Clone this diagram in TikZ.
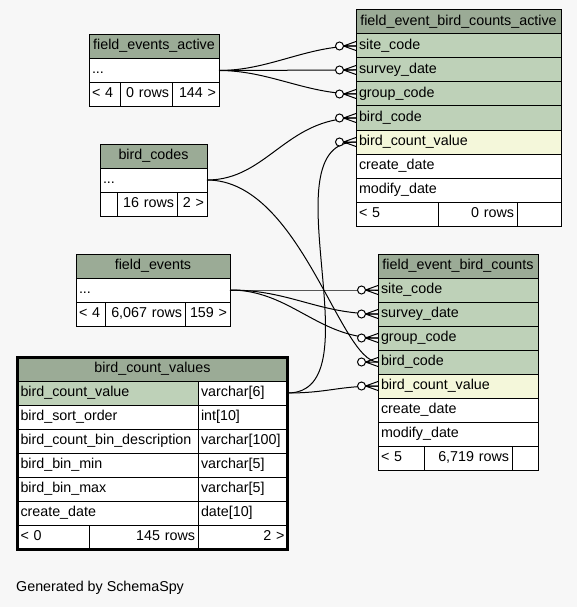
\documentclass[tikz,border=0pt]{standalone}
\usepackage{fontspec}
\setmainfont{Liberation Sans}
\usetikzlibrary{positioning}
\definecolor{schemabg}{HTML}{F7F7F7}
\definecolor{schemahead}{HTML}{9BAB96}
\definecolor{schemakey}{HTML}{BED1B8}
\definecolor{schemaidx}{HTML}{F4F7DA}
\newcommand{\tablefont}{\fontsize{14.3}{17}\selectfont}
\tikzset{
  cell/.style={draw=black, line width=1pt, fill=white, minimum height=24pt,
               inner xsep=3pt, inner ysep=0pt, outer sep=0pt, text height=10.5pt,
               text depth=3.5pt, align=left, font=\tablefont},
  headcell/.style={cell, fill=schemahead, align=center},
  keycell/.style={cell, fill=schemakey},
  idxcell/.style={cell, fill=schemaidx},
  numcell/.style={cell, align=right},
  rel/.style={line width=1pt, draw=black},
  crowfoot/.pic={
    \draw[line width=1pt] (-12.5,0) -- (0,-4.5) (-12.5,0) -- (0,0) (-12.5,0) -- (0,4.5);
    \draw[line width=1pt, fill=white] (-16.5,0) circle (4);
  },
}

\begin{document}
\begin{tikzpicture}[x=1pt, y=-1pt]
  \fill[schemabg] (0,0) rectangle (577,607);

  % field_events_active
  \node[headcell, anchor=north west, text width=124pt] (fea) at (89,34.5) {field\_events\_active};
  \node[cell, below=0pt of fea, text width=124pt] (fea1) {...};
  \node[cell, below right=0pt and 0pt of fea1.south west, text width=25pt] (feaf1) {< 4};
  \node[numcell, right=0pt of feaf1, text width=46pt] (feaf2) {0 rows};
  \node[numcell, right=0pt of feaf2, text width=41pt] (feaf3) {144 >};

  % bird_codes
  \node[headcell, anchor=north west, text width=101pt] (bc) at (100,144) {bird\_codes};
  \node[cell, below=0pt of bc, text width=101pt] (bc1) {...};
  \node[cell, below right=0pt and 0pt of bc1.south west, text width=11pt] (bcf1) {};
  \node[numcell, right=0pt of bcf1, text width=54pt] (bcf2) {16 rows};
  \node[numcell, right=0pt of bcf2, text width=24pt] (bcf3) {2 >};

  % field_event_bird_counts_active
  \node[headcell, anchor=north west, text width=199pt] (fba) at (356,10) {field\_event\_bird\_counts\_active};
  \node[keycell, below=0pt of fba, text width=199pt] (fba1) {site\_code};
  \node[keycell, below=0pt of fba1, text width=199pt] (fba2) {survey\_date};
  \node[keycell, below=0pt of fba2, text width=199pt] (fba3) {group\_code};
  \node[keycell, below=0pt of fba3, text width=199pt] (fba4) {bird\_code};
  \node[idxcell, below=0pt of fba4, text width=199pt] (fba5) {bird\_count\_value};
  \node[cell, below=0pt of fba5, text width=199pt] (fba6) {create\_date};
  \node[cell, below=0pt of fba6, text width=199pt] (fba7) {modify\_date};
  \node[cell, below right=0pt and 0pt of fba7.south west, text width=76pt] (fbaf1) {< 5};
  \node[numcell, right=0pt of fbaf1, text width=73pt] (fbaf2) {0 rows};
  \node[numcell, right=0pt of fbaf2, text width=38pt] (fbaf3) {};

  % field_events
  \node[headcell, anchor=north west, text width=148pt] (fe) at (76,254) {field\_events};
  \node[cell, below=0pt of fe, text width=148pt] (fe1) {...};
  \node[cell, below right=0pt and 0pt of fe1.south west, text width=23pt] (fef1) {< 4};
  \node[numcell, right=0pt of fef1, text width=74pt] (fef2) {6,067 rows};
  \node[numcell, right=0pt of fef2, text width=39pt] (fef3) {159 >};

  % bird_count_values
  \node[headcell, anchor=north west, text width=264pt] (bcv) at (17.5,357) {bird\_count\_values};
  \node[keycell, below right=0pt and 0pt of bcv.south west, text width=174.5pt] (bcv1) {bird\_count\_value};
  \node[cell, right=0pt of bcv1, text width=83.5pt] (bcvt1) {varchar[6]};
  \node[cell, below=0pt of bcv1, text width=174.5pt] (bcv2) {bird\_sort\_order};
  \node[cell, right=0pt of bcv2, text width=83.5pt] (bcvt2) {int[10]};
  \node[cell, below=0pt of bcv2, text width=174.5pt] (bcv3) {bird\_count\_bin\_description};
  \node[cell, right=0pt of bcv3, text width=83.5pt] (bcvt3) {varchar[100]};
  \node[cell, below=0pt of bcv3, text width=174.5pt] (bcv4) {bird\_bin\_min};
  \node[cell, right=0pt of bcv4, text width=83.5pt] (bcvt4) {varchar[5]};
  \node[cell, below=0pt of bcv4, text width=174.5pt] (bcv5) {bird\_bin\_max};
  \node[cell, right=0pt of bcv5, text width=83.5pt] (bcvt5) {varchar[5]};
  \node[cell, below=0pt of bcv5, text width=174.5pt] (bcv6) {create\_date};
  \node[cell, right=0pt of bcv6, text width=83.5pt] (bcvt6) {date[10]};
  \node[cell, below right=0pt and 0pt of bcv6.south west, text width=65.5pt] (bcvf1) {< 0};
  \node[numcell, right=0pt of bcvf1, text width=103pt] (bcvf2) {145 rows};
  \node[numcell, right=0pt of bcvf2, text width=83.5pt] (bcvf3) {2 >};
  \draw[line width=3pt] (bcv.north west) rectangle (bcvf3.south east);

  % field_event_bird_counts
  \node[headcell, anchor=north west, text width=154pt] (fbc) at (378,254) {field\_event\_bird\_counts};
  \node[keycell, below=0pt of fbc, text width=154pt] (fbc1) {site\_code};
  \node[keycell, below=0pt of fbc1, text width=154pt] (fbc2) {survey\_date};
  \node[keycell, below=0pt of fbc2, text width=154pt] (fbc3) {group\_code};
  \node[keycell, below=0pt of fbc3, text width=154pt] (fbc4) {bird\_code};
  \node[idxcell, below=0pt of fbc4, text width=154pt] (fbc5) {bird\_count\_value};
  \node[cell, below=0pt of fbc5, text width=154pt] (fbc6) {create\_date};
  \node[cell, below=0pt of fbc6, text width=154pt] (fbc7) {modify\_date};
  \node[cell, below right=0pt and 0pt of fbc7.south west, text width=40pt] (fbcf1) {< 5};
  \node[numcell, right=0pt of fbcf1, text width=82pt] (fbcf2) {6,719 rows};
  \node[numcell, right=0pt of fbcf2, text width=20pt] (fbcf3) {};

  % relationships
  \draw[rel] (fea1.east) .. controls +(50,0) and +(-50,0) .. (fba1.west);
  \draw[rel] (fea1.east) .. controls +(50,0) and +(-50,0) .. (fba2.west);
  \draw[rel] (fea1.east) .. controls +(50,0) and +(-50,0) .. (fba3.west);
  \draw[rel] (bc1.east) .. controls +(60,0) and +(-70,0) .. (fba4.west);
  \draw[rel] (bc1.east) .. controls +(93,0) and +(-38,0) .. (fbc4.west);
  \draw[rel] (fe1.east) .. controls +(60,0) and +(-60,0) .. (fbc1.west);
  \draw[rel] (fe1.east) .. controls +(60,0) and +(-60,0) .. (fbc2.west);
  \draw[rel] (fe1.east) .. controls +(60,0) and +(-60,0) .. (fbc3.west);
  \draw[rel] (bcvt1.east) .. controls +(91,0) and +(-91,0) .. (fba5.west);
  \draw[rel] (bcvt1.east) .. controls +(40,0) and +(-40,0) .. (fbc5.west);
  \pic at (fba1.west) {crowfoot};
  \pic at (fba2.west) {crowfoot};
  \pic at (fba3.west) {crowfoot};
  \pic at (fba4.west) {crowfoot};
  \pic at (fba5.west) {crowfoot};
  \pic at (fbc1.west) {crowfoot};
  \pic at (fbc2.west) {crowfoot};
  \pic at (fbc3.west) {crowfoot};
  \pic at (fbc4.west) {crowfoot};
  \pic at (fbc5.west) {crowfoot};

  \node[anchor=base west, inner sep=0pt, font=\tablefont] (gen) at (16,591) {Generated by SchemaSpy};
\end{tikzpicture}
\end{document}
